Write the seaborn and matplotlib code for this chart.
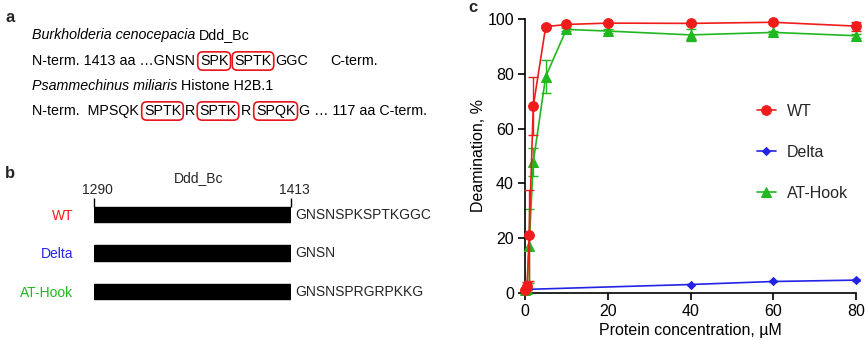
import matplotlib
matplotlib.use("Agg")
import matplotlib.pyplot as plt
import seaborn as sns
import numpy as np

# ---------------- data ----------------
conc = [0, 0.5, 1, 2, 5, 10, 20, 40, 60, 80]
wt_mean = [1.0, 2.5, 21.0, 68.2, 97.2, 98.0, 98.5, 98.4, 98.8, 97.4]
wt_sd = [0.3, 1.5, 16.7, 10.5, 0.5, 0.5, 0.4, 0.5, 0.5, 1.6]
at_mean = [1.0, 1.5, 17.2, 47.8, 79.0, 96.2, 95.6, 94.2, 95.1, 93.9]
at_sd = [0.3, 0.5, 13.6, 5.0, 6.0, 0.5, 0.8, 2.3, 0.6, 0.8]
delta_conc = [0, 40, 60, 80]
delta_mean = [1.3, 3.1, 4.2, 4.7]
delta_sd = [0.3, 0.3, 0.3, 0.4]

constructs = ["WT", "Delta", "AT-Hook"]
construct_colors = ["#f01c1c", "#2323e6", "#1fb81f"]
domain_start = [1290, 1290, 1290]
domain_end = [1413, 1413, 1413]
tails = ["GNSNSPKSPTKGGC", "GNSN", "GNSNSPRGRPKKG"]

RED, BLUE, GREEN = construct_colors

sns.set_theme(style="ticks")
plt.rcParams["font.family"] = ["Liberation Sans", "DejaVu Sans"]

W, H = 865, 341
fig = plt.figure(figsize=(W / 100, H / 100), dpi=100)

# ---------------- panel a (text, pixel coordinates) ----------------
axA = fig.add_axes([0, 0, 1, 1])
axA.set_xlim(0, W)
axA.set_ylim(H, 0)
axA.axis("off")
FS = 10
FSA = 10.3

def chain(pieces, x0, y0):
    prev = None
    for s, style, gap in pieces:
        kw = dict(fontsize=FSA, color="black")
        if style == "it":
            kw["fontstyle"] = "italic"
        if style == "box":
            kw["bbox"] = dict(boxstyle="round,pad=0.15,rounding_size=0.35",
                              fc="none", ec="#e8141c", lw=1.2)
        if prev is None:
            prev = axA.text(x0, y0, s, ha="left", va="baseline", **kw)
        else:
            prev = axA.annotate(s, xy=(1, 0), xycoords=prev, xytext=(gap, 0),
                                textcoords="offset pixels", ha="left",
                                va="bottom", **kw)

chain([("Burkholderia cenocepacia", "it", 0), ("Ddd_Bc", "n", 4)], 32, 39)
chain([("N-term. 1413 aa \u2026GNSN", "n", 0), ("SPK", "box", 5),
       ("SPTK", "box", 6), ("GGC", "n", 4), ("C-term.", "n", 22)], 32, 65)
chain([("Psammechinus miliaris", "it", 0), ("Histone H2B.1", "n", 4)], 32, 90)
chain([("N-term.  MPSQK", "n", 0), ("SPTK", "box", 5), ("R", "n", 4),
       ("SPTK", "box", 4), ("R", "n", 4), ("SPQK", "box", 5),
       ("G \u2026 117 aa C-term.", "n", 4)], 32, 115)

axA.text(5, 17, "a", fontsize=12, fontweight="bold", va="center", ha="left")
axA.text(5, 173, "b", fontsize=12, fontweight="bold", va="center", ha="left")
axA.text(468, 8, "c", fontsize=12, fontweight="bold", va="center", ha="left")

# ---------------- panel b (domain bars) ----------------
row_px = 38.5
x0_px, x1_px = 94, 291
top_px = 214.5 - row_px / 2
bot_px = 214.5 + 2 * row_px + row_px / 2
axB = fig.add_axes([x0_px / W, (H - bot_px) / H, (x1_px - x0_px) / W,
                    (bot_px - top_px) / H])
axB.patch.set_visible(False)
rows = np.arange(len(constructs))
axB.barh(rows, np.array(domain_end) - np.array(domain_start),
         left=domain_start, height=0.39, color="black", edgecolor="black")
axB.set_xlim(domain_start[0], domain_end[0])
axB.set_ylim(len(constructs) - 0.5, -0.5)
for sp in axB.spines.values():
    sp.set_visible(False)
axB.set_xticks([])
axB.set_yticks(rows)
axB.set_yticklabels(constructs, fontsize=FS)
for lab, c in zip(axB.get_yticklabels(), construct_colors):
    lab.set_color(c)
axB.tick_params(axis="y", length=0, pad=15)
axB.vlines([domain_start[0], domain_end[0]], -0.43, -0.195, color="black",
           lw=1.0, clip_on=False)
for xv in (domain_start[0], domain_end[0]):
    axB.annotate(str(xv), xy=(xv, -0.64), xytext=(3, 0),
                 textcoords="offset pixels", ha="center", va="center",
                 fontsize=FS, annotation_clip=False)
axB.text((domain_start[0] + domain_end[0]) / 2 + 4, -0.95, "Ddd_Bc",
         ha="center", va="center", fontsize=FS, clip_on=False)
for r, t in zip(rows, tails):
    axB.annotate(t, xy=(domain_end[0], r), xytext=(4, 0),
                 textcoords="offset pixels", ha="left", va="center",
                 fontsize=FS, annotation_clip=False)

# ---------------- panel c (titration curves) ----------------
axC = fig.add_axes([525 / W, 48 / H, 331 / W, 274 / H])
axC.patch.set_visible(False)

axC.errorbar(conc, at_mean, yerr=at_sd, fmt="none", ecolor=GREEN,
             elinewidth=1.0, capsize=3.5, capthick=1.0, clip_on=False, zorder=2)
sns.lineplot(x=conc, y=at_mean, ax=axC, color=GREEN, marker="^", markersize=7,
             markeredgecolor=GREEN, linewidth=1.2, label="AT-Hook",
             clip_on=False, zorder=3)
axC.errorbar(delta_conc, delta_mean, yerr=delta_sd, fmt="none", ecolor=BLUE,
             elinewidth=1.0, capsize=3.0, capthick=1.0, clip_on=False, zorder=2)
sns.lineplot(x=delta_conc, y=delta_mean, ax=axC, color=BLUE, marker="D",
             markersize=4.5, markeredgecolor=BLUE, linewidth=1.2,
             label="Delta", clip_on=False, zorder=3)
axC.errorbar(conc, wt_mean, yerr=wt_sd, fmt="none", ecolor=RED,
             elinewidth=1.0, capsize=3.5, capthick=1.0, clip_on=False, zorder=4)
sns.lineplot(x=conc, y=wt_mean, ax=axC, color=RED, marker="o", markersize=7,
             markeredgecolor=RED, linewidth=1.2, label="WT",
             clip_on=False, zorder=5)

axC.set_xlim(0, 80)
axC.set_ylim(0, 100)
axC.set_xticks([0, 20, 40, 60, 80])
axC.set_yticks([0, 20, 40, 60, 80, 100])
sns.despine(ax=axC)
for sp in ("left", "bottom"):
    axC.spines[sp].set_color("black")
    axC.spines[sp].set_linewidth(1.2)
axC.tick_params(axis="both", length=5, width=1.2, color="black",
                labelsize=11.5, labelcolor="black", pad=3)
axC.set_xlabel("Protein concentration, \u00b5M", fontsize=11.5, labelpad=3,
               color="black")
axC.set_ylabel("Deamination, %", fontsize=11.5, labelpad=1, color="black")

handles, labels = axC.get_legend_handles_labels()
order = [labels.index(c) for c in constructs]
axC.legend([handles[i] for i in order], [labels[i] for i in order],
           loc="upper left", bbox_to_anchor=(0.70, 0.69), frameon=False,
           borderpad=0, borderaxespad=0, labelspacing=1.62, handlelength=1.2,
           handletextpad=0.7, fontsize=11.5)

fig.savefig("out.png", dpi=100)
